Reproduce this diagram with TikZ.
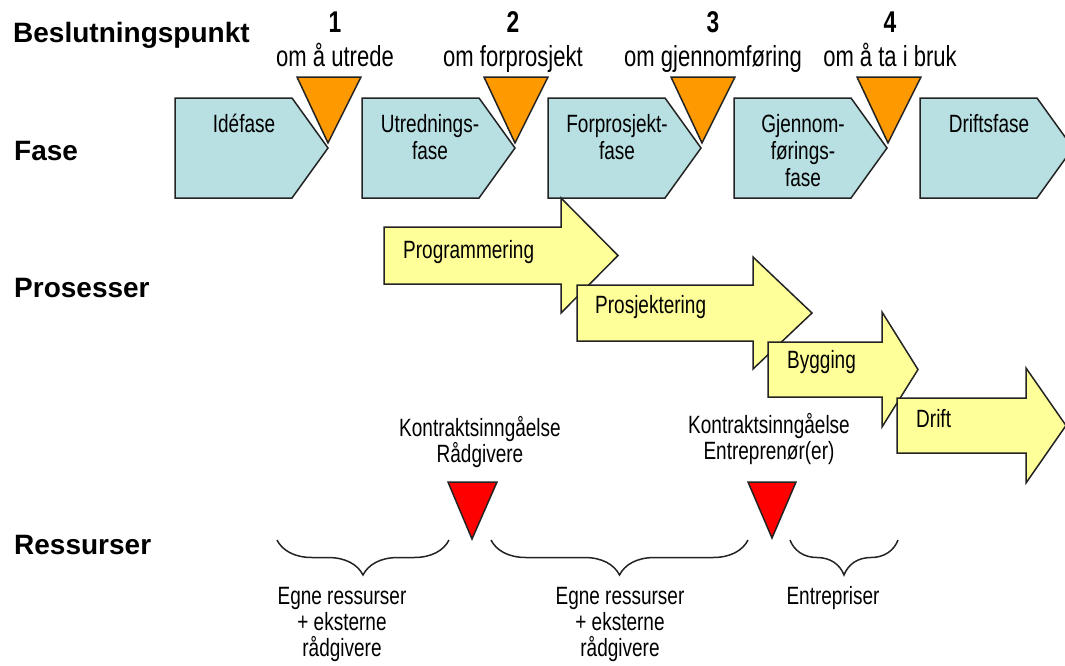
\documentclass[tikz,border=0pt]{standalone}
\usepackage{fontspec}
\setmainfont{Liberation Sans}
\newfontfamily\narrowfont[FakeStretch=0.76]{Liberation Sans}
\usetikzlibrary{decorations.pathreplacing}

\definecolor{faseblue}{RGB}{184,223,226}
\definecolor{decisionorange}{RGB}{255,153,0}
\definecolor{processyellow}{RGB}{255,255,153}
\definecolor{contractred}{RGB}{255,0,0}
\definecolor{outline}{RGB}{35,35,35}

\begin{document}
\begin{tikzpicture}[x=1pt,y=-1pt,
  heading/.style={anchor=base west, inner sep=0pt, font=\fontsize{28}{34}\selectfont\bfseries},
  decnum/.style={anchor=base, inner sep=0pt, font=\narrowfont\bfseries\fontsize{30}{34}\selectfont},
  declabel/.style={anchor=base, inner sep=0pt, font=\narrowfont\fontsize{29}{32}\selectfont},
  txt/.style={anchor=base, inner sep=0pt, font=\narrowfont\fontsize{25}{27}\selectfont},
  txtleft/.style={txt, anchor=base west},
  fasebox/.style={fill=faseblue, draw=outline, line width=1.5pt, line join=miter},
  gate/.style={fill=decisionorange, draw=outline, line width=1.5pt, line join=miter},
  procarrow/.style={fill=processyellow, draw=outline, line width=1.5pt, line join=miter},
  contract/.style={fill=contractred, draw=outline, line width=1.5pt, line join=miter},
  curly/.style={draw=outline, line width=1.5pt, decorate,
                decoration={brace, mirror, amplitude=35pt}},
]
\useasboundingbox (0,0) rectangle (1065,665);
\clip (0,0) rectangle (1065,665);

% row headings
\node[heading] (hBesl) at (13,42)  {Beslutningspunkt};
\node[heading] (hFase) at (14,160) {Fase};
\node[heading] (hProc) at (14,297) {Prosesser};
\node[heading] (hRess) at (14,554) {Ressurser};

% phase boxes (pentagons)
\foreach \L in {175,362,548,734,920}{
  \draw[fasebox] (\L,98) -- (\L+117,98) -- (\L+153,148) -- (\L+117,198) -- (\L,198) -- cycle;
}
\node[txt] (f1) at (244,132) {Idéfase};
\node[txt] (f2a) at (430,132) {Utrednings-};
\node[txt] (f2b) at (430,159) {fase};
\node[txt] (f3a) at (617,132) {Forprosjekt-};
\node[txt] (f3b) at (617,159) {fase};
\node[txt] (f4a) at (803,132) {Gjennom-};
\node[txt] (f4b) at (803,159) {førings-};
\node[txt] (f4c) at (803,186) {fase};
\node[txt] (f5) at (989,132) {Driftsfase};

% decision points
\foreach \t in {328,515,702,888}{
  \draw[gate] (\t-31,77) -- (\t+33,77) -- (\t,143) -- cycle;
}
\node[decnum] (d1) at (335,32) {1};
\node[declabel] (d1t) at (335,66) {om å utrede};
\node[decnum] (d2) at (513,32) {2};
\node[declabel] (d2t) at (513,66) {om forprosjekt};
\node[decnum] (d3) at (713,32) {3};
\node[declabel] (d3t) at (713,66) {om gjennomføring};
\node[decnum] (d4) at (890,32) {4};
\node[declabel] (d4t) at (890,66) {om å ta i bruk};

% process arrows
\draw[procarrow] (384,227) -- (561,227) -- (561,198) -- (618,255.5) -- (561,313) -- (561,284) -- (384,284) -- cycle;
\node[txtleft] (p1) at (403,258) {Programmering};
\draw[procarrow] (577,285) -- (753,285) -- (753,257) -- (812,313) -- (753,369) -- (753,341) -- (577,341) -- cycle;
\node[txtleft] (p2) at (595,313) {Prosjektering};
\draw[procarrow] (768,342) -- (882,342) -- (882,312) -- (918,369.5) -- (882,427) -- (882,397) -- (768,397) -- cycle;
\node[txtleft] (p3) at (787,368) {Bygging};
\draw[procarrow] (897,398) -- (1026,398) -- (1026,368) -- (1066,425.5) -- (1026,483) -- (1026,453) -- (897,453) -- cycle;
\node[txtleft] (p4) at (916,427) {Drift};

% contract signing points
\node[txt] (k1a) at (480,436) {Kontraktsinngåelse};
\node[txt] (k1b) at (480,462) {Rådgivere};
\draw[contract] (448,482) -- (497,482) -- (472,539) -- cycle;
\node[txt] (k2a) at (769,433) {Kontraktsinngåelse};
\node[txt] (k2b) at (769,459) {Entreprenør(er)};
\draw[contract] (748,482) -- (796,482) -- (772,538) -- cycle;

% resource braces
\coordinate (b1s) at (277,540);
\coordinate (b1e) at (449,540);
\coordinate (b2s) at (491,540);
\coordinate (b2e) at (748,540);
\coordinate (b3s) at (790,540);
\coordinate (b3e) at (898,540);
\draw[curly] (b1s) -- (b1e);
\draw[curly] (b2s) -- (b2e);
\draw[curly] (b3s) -- (b3e);

\node[txt] (r1a) at (342,604) {Egne ressurser};
\node[txt] (r1b) at (342,630) {+ eksterne};
\node[txt] (r1c) at (342,656) {rådgivere};
\node[txt] (r2a) at (620,604) {Egne ressurser};
\node[txt] (r2b) at (620,630) {+ eksterne};
\node[txt] (r2c) at (620,656) {rådgivere};
\node[txt] (r3) at (833,604) {Entrepriser};
\end{tikzpicture}
\end{document}
